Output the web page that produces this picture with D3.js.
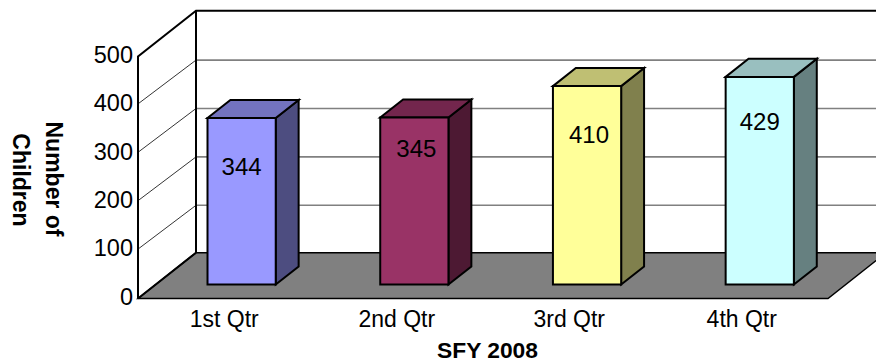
<!DOCTYPE html>
<html><head><meta charset="utf-8">
<script src="https://cdn.jsdelivr.net/npm/d3@7/dist/d3.min.js"></script>
<style>html,body{margin:0;padding:0;background:#fff}svg{display:block}text{font-family:"Liberation Sans",Arial,sans-serif;fill:#000}</style>
</head><body><svg id="c" width="876" height="362"></svg>
<script>
const categories = ["1st Qtr","2nd Qtr","3rd Qtr","4th Qtr"];
const values = [344,345,410,429];
const yTicks = [0,100,200,300,400,500];
const frontColors = ["#9999FF","#993366","#FFFF99","#CCFFFF"];
const topColors = ["#7373BF","#73264D","#BFBF73","#99BFBF"];
const sideColors = ["#4D4D80","#4D1933","#80804D","#668080"];
const xAxisTitle = "SFY 2008";
const yAxisTitle = ["Number of","Children"];

const svg = d3.select("#c");
const x0=138, x1=828, yBase=298.5, wallH=242, dx=58, dy=45.8;
const xs = d3.scaleBand().domain(categories).range([x0,x1]).paddingInner(0.605).paddingOuter(0.3);
const band = d3.scaleBand().domain(categories).range([x0,x1]);
const h = d3.scaleLinear().domain([0,500]).range([0,wallH]);
const pt = (x,v,d)=>[x+dx*d, yBase-h(v)-dy*d];
const line = d3.line();
const poly = (pts,fill,stroke,sw)=>svg.append("path").attr("d",line(pts)+"Z").attr("fill",fill).attr("stroke",stroke).attr("stroke-width",sw).attr("stroke-linejoin","miter");
const seg = (pts,stroke,sw)=>svg.append("path").attr("d",line(pts)).attr("fill","none").attr("stroke",stroke).attr("stroke-width",sw);

// floor
poly([pt(x0,0,0),pt(x0,0,1),pt(x1,0,1),pt(x1,0,0)],"#808080","#000",1.5);
// gridlines
yTicks.slice(1,-1).forEach(t=>{
  const a=pt(x0,t,0), b=pt(x0,t,1), c=pt(x1,t,1);
  seg([[a[0],a[1]-1],[b[0],b[1]+1]],"#000",0.8);
  seg([[b[0],b[1]+1],[c[0],c[1]+1]],"#808080",1.6);
});
// walls
seg([pt(x0,0,0),pt(x0,500,0),pt(x0,500,1),pt(x1,500,1)],"#000",2);
seg([pt(x0,0,1),pt(x0,500,1)],"#000",2);
seg([pt(x0,0,0),pt(x0,0,1)],"#000",2);

// bars
const d1=0.305, d2=0.70;
const labelGap=[57,39,56.5,53], labelShift=[0,2,2,0];
categories.forEach((c,i)=>{
  const v=values[i], l=xs(c), r=l+xs.bandwidth();
  poly([pt(r,0,d1),pt(r,0,d2),pt(r,v,d2),pt(r,v,d1)],sideColors[i],"#000",2);
  poly([pt(l,v,d1),pt(l,v,d2),pt(r,v,d2),pt(r,v,d1)],topColors[i],"#000",2);
  poly([pt(l,0,d1),pt(l,v,d1),pt(r,v,d1),pt(r,0,d1)],frontColors[i],"#000",2);
  const [cx,cy]=pt((l+r)/2,v,d1);
  svg.append("text").attr("x",cx+labelShift[i]).attr("y",cy+labelGap[i]).attr("text-anchor","middle").attr("font-size",24).text(v);
});
// tick labels
yTicks.forEach(t=>svg.append("text").attr("x",x0-5).attr("y",yBase-h(t)+6.3).attr("text-anchor","end").attr("font-size",23.5).text(t));
categories.forEach(c=>svg.append("text").attr("x",band(c)+band.bandwidth()/2).attr("y",326.5).attr("text-anchor","middle").attr("font-size",23).text(c));
svg.append("text").attr("x",487.5).attr("y",358).attr("text-anchor","middle").attr("font-size",22.8).attr("font-weight","bold").text(xAxisTitle);
yAxisTitle.forEach((s,i)=>svg.append("text").attr("transform",`translate(${[46,13][i]},${[179,180][i]}) rotate(90)`).attr("text-anchor","middle").attr("font-size",23).attr("font-weight","bold").text(s));
</script></body></html>
